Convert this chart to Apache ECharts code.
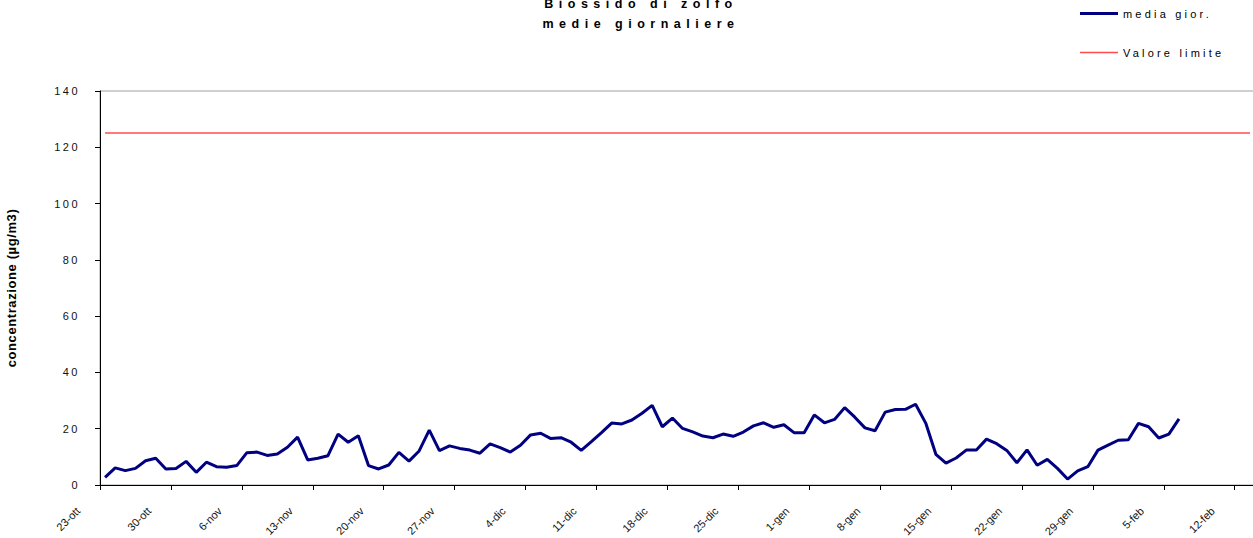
<!DOCTYPE html>
<html>
<head>
<meta charset="utf-8">
<script src="https://cdn.jsdelivr.net/npm/echarts@6/dist/echarts.min.js"></script>
<style>
  html, body { margin: 0; padding: 0; background: #fff; }
  #chart { width: 1253px; height: 538px; }
  text[style*="spwide"] { letter-spacing: 5.5px; }
  text[style*="spmid"] { letter-spacing: 3.2px; }
  text[style*="spnarrow"] { letter-spacing: 2.5px; }
  text[style*="spname"] { letter-spacing: 0.6px; }
</style>
</head>
<body>
<div id="chart"></div>
<script>
// ---- data ----
const titleLines = ['Biossido di zolfo', 'medie giornaliere'];
const seriesNames = ['media gior.', 'Valore limite'];
const yAxisName = 'concentrazione (µg/m3)';
const monthNames = ['ott', 'nov', 'dic', 'gen', 'feb'];
const monthStartDay = [23, 1, 1, 1, 1];
const monthEndDay = [31, 30, 31, 31, 13];
const tickLabels = ['23-ott', '30-ott', '6-nov', '13-nov', '20-nov', '27-nov', '4-dic', '11-dic',
  '18-dic', '25-dic', '1-gen', '8-gen', '15-gen', '22-gen', '29-gen', '5-feb', '12-feb'];
const yTicks = [0, 20, 40, 60, 80, 100, 120, 140];
const dailyMean = [
  2.7, 6.1, 5.1, 5.9, 8.6, 9.5, 5.7, 5.9, 8.4, 4.5, 8.1, 6.5, 6.3, 6.9, 11.5, 11.7, 10.5, 11.0, 13.4, 17.0,
  8.9, 9.5, 10.4, 18.1, 15.2, 17.5, 6.9, 5.7,
  7.1, 11.6, 8.5, 12.1, 19.5, 12.2, 13.9, 13.0, 12.4, 11.3, 14.6, 13.3, 11.7, 14.1, 17.8, 18.4, 16.5, 16.8,
  15.2, 12.3, 15.4, 18.6, 22.0, 21.7, 23.1, 25.5, 28.3,
  20.7, 23.8, 20.1, 18.9, 17.4, 16.8, 18.1, 17.3, 18.8, 21.0, 22.1, 20.5, 21.4, 18.6, 18.6, 24.9, 22.1, 23.3,
  27.5, 24.1, 20.3, 19.3, 25.9, 26.8, 26.9, 28.7, 22.0,
  10.9, 7.8, 9.6, 12.4, 12.4, 16.3, 14.7, 12.3, 7.9, 12.5, 7.0, 9.1, 5.9, 2.1, 5.0, 6.5, 12.4, 14.2, 15.9,
  16.1, 21.9, 20.7, 16.7, 18.1, 23.5
];
const limitValue = 125;

// daily category labels (calendar days 23-ott .. 13-feb)
const categories = [];
monthNames.forEach(function (m, i) {
  for (let d = monthStartDay[i]; d <= monthEndDay[i]; d++) categories.push(d + '-' + m);
});

const weekly = function (i) { return i % 7 === 0; };

const chart = echarts.init(document.getElementById('chart'), null, { renderer: 'svg' });
const option = {
  animation: false,
  backgroundColor: '#ffffff',
  title: {
    text: titleLines.join('\n'),
    left: 641,
    top: -6,
    textAlign: 'center',
    padding: 0,
    textStyle: {
      fontFamily: "'Liberation Sans', spwide",
      fontSize: 12.5,
      fontWeight: 'bold',
      color: '#000',
      lineHeight: 20
    }
  },
  legend: {
    orient: 'vertical',
    left: 1080,
    top: 8,
    padding: 0,
    itemWidth: 38,
    itemHeight: 14,
    itemGap: 28,
    itemTextGap: 3,
    selectedMode: false,
    textStyle: {
      fontFamily: "'Liberation Sans', spmid",
      fontSize: 11,
      color: '#000'
    },
    data: [
      { name: seriesNames[0], icon: 'path://M0,0 L38,0 L38,3 L0,3 Z' },
      { name: seriesNames[1], icon: 'path://M0,0 L38,0 L38,1.5 L0,1.5 Z' }
    ]
  },
  grid: [
    {
      left: 100,
      right: -2,
      top: 91,
      bottom: 53,
      show: true,
      borderColor: '#a0a0a0',
      borderWidth: 1,
      backgroundColor: 'transparent',
      outerBoundsMode: 'none',
      containLabel: false
    },
    {
      // label-only grid, shifted left so the rotated date labels sit like the reference
      left: 73,
      right: 25,
      top: 91,
      bottom: 53,
      show: false,
      outerBoundsMode: 'none',
      containLabel: false
    }
  ],
  xAxis: [
    {
      type: 'category',
      gridIndex: 0,
      data: categories,
      boundaryGap: true,
      axisLine: { show: true, lineStyle: { color: '#000', width: 1 } },
      axisTick: {
        show: true,
        length: 5,
        alignWithLabel: false,
        interval: weekly,
        lineStyle: { color: '#000' }
      },
      axisLabel: { show: false },
      splitLine: { show: false }
    },
    {
      type: 'category',
      gridIndex: 1,
      data: categories,
      boundaryGap: true,
      axisLine: { show: false },
      axisTick: { show: false },
      axisLabel: {
        show: true,
        interval: weekly,
        rotate: 45,
        margin: 24,
        fontFamily: "'Liberation Sans', Arial",
        fontSize: 11,
        color: '#111'
      },
      splitLine: { show: false }
    }
  ],
  yAxis: [
    {
      type: 'value',
      gridIndex: 0,
      min: yTicks[0],
      max: yTicks[yTicks.length - 1],
      interval: yTicks[1] - yTicks[0],
      name: yAxisName,
      nameLocation: 'middle',
      nameRotate: 90,
      nameGap: 82,
      nameTextStyle: {
        fontFamily: "'Liberation Sans', spname",
        fontSize: 13,
        fontWeight: 'bold',
        color: '#000'
      },
      axisLine: { show: true, lineStyle: { color: '#000', width: 1 } },
      axisTick: { show: true, length: 5, lineStyle: { color: '#000' } },
      axisLabel: {
        margin: 20,
        fontFamily: "'Liberation Sans', spnarrow",
        fontSize: 11,
        color: '#111'
      },
      splitLine: { show: false }
    },
    {
      type: 'value',
      gridIndex: 1,
      min: yTicks[0],
      max: yTicks[yTicks.length - 1],
      show: false
    }
  ],
  series: [
    {
      name: seriesNames[0],
      type: 'line',
      xAxisIndex: 0,
      yAxisIndex: 0,
      data: dailyMean,
      symbol: 'none',
      showSymbol: false,
      color: '#000080',
      lineStyle: { color: '#000080', width: 3 },
      itemStyle: { color: '#000080' },
      emphasis: { disabled: true },
      z: 3
    },
    {
      name: seriesNames[1],
      type: 'line',
      xAxisIndex: 0,
      yAxisIndex: 0,
      data: [],
      symbol: 'none',
      color: '#ff4d4d',
      lineStyle: { color: '#ff4d4d', width: 1.5 },
      itemStyle: { color: '#ff4d4d' },
      markLine: {
        silent: true,
        symbol: ['none', 'none'],
        label: { show: false },
        lineStyle: { color: '#ff4d4d', width: 1.5, type: 'solid' },
        emphasis: { disabled: true },
        data: [[
          { xAxis: 0, yAxis: limitValue },
          { xAxis: categories.length - 1, yAxis: limitValue }
        ]]
      },
      z: 2
    }
  ]
};
chart.setOption(option);
</script>
</body>
</html>
